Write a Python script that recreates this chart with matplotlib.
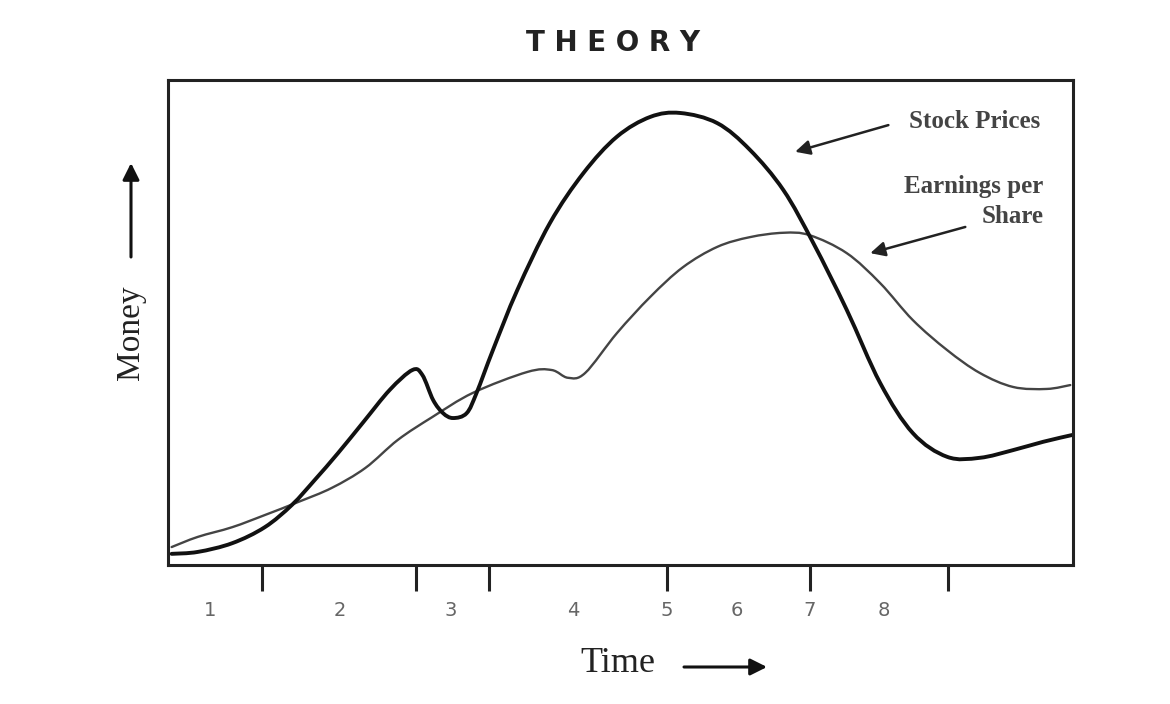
import numpy as np
import matplotlib
matplotlib.use('Agg')
import matplotlib.pyplot as plt
from matplotlib.path import Path
from matplotlib.patches import PathPatch, FancyArrowPatch

# time runs 0..100 across the box, money 0..100 up the box
stock_t = [0.4, 3.3, 7.1, 10.7, 13.7, 16.2, 18.8, 21.6, 24.5, 27.0, 28.1, 29.3, 30.4, 31.5,
           33.0, 34.1, 35.9, 38.6, 42.2, 45.9, 49.6, 53.3, 56.6, 60.7, 64.3, 68.0, 71.3,
           75.0, 78.7, 82.3, 86.1, 89.7, 93.4, 96.7, 99.9]
stock_m = [2.3, 2.7, 4.5, 7.8, 12.4, 17.5, 23.1, 29.5, 36.1, 40.2, 39.2, 34.0, 31.3, 30.3,
           31.3, 35.5, 44.3, 56.7, 70.5, 80.8, 88.3, 92.4, 93.2, 91.1, 85.6, 77.3, 66.4,
           52.6, 37.5, 27.2, 22.3, 22.1, 23.7, 25.4, 26.8]

eps_t = [0.4, 3.3, 7.1, 10.7, 14.4, 18.1, 21.8, 25.4, 29.2, 33.7, 39.7, 42.4, 44.2, 46.1,
         49.6, 53.3, 56.9, 60.7, 64.3, 68.0, 70.9, 75.0, 78.7, 82.3, 86.1, 89.7, 93.4,
         97.1, 99.7]
eps_m = [3.7, 5.8, 7.8, 10.3, 13.0, 15.9, 20.0, 25.8, 30.5, 35.5, 39.8, 40.2, 38.6, 39.6,
         47.8, 55.3, 61.4, 65.6, 67.6, 68.5, 68.0, 64.3, 58.1, 50.5, 44.3, 39.6, 36.7,
         36.3, 37.1]

# phase boundaries and phase numbers along the time axis
phase_edges = [10.4, 27.4, 35.5, 55.1, 70.9, 86.2]
phase_pos = [4.6, 19.0, 31.2, 44.8, 55.1, 62.8, 70.9, 79.1]
phase_labels = ['1', '2', '3', '4', '5', '6', '7', '8']


def smooth_path(xs, ys):
    # bezier path through the read points (catmull-rom handles), drawn by matplotlib
    p = np.column_stack([xs, ys]).astype(float)
    verts = [p[0]]
    codes = [Path.MOVETO]
    n = len(p)
    for i in range(n - 1):
        p0 = p[max(i - 1, 0)]
        p1 = p[i]
        p2 = p[i + 1]
        p3 = p[min(i + 2, n - 1)]
        verts += [p1 + (p2 - p0) / 6.0, p2 - (p3 - p1) / 6.0, p2]
        codes += [Path.CURVE4] * 3
    return Path(verts, codes)


plt.rcParams['font.family'] = ['DejaVu Sans']

fig = plt.figure(figsize=(11.7, 7.04), dpi=100)
ax = fig.add_axes([168 / 1170, 139 / 704, 905 / 1170, 485 / 704])

ax.add_patch(PathPatch(smooth_path(eps_t, eps_m), fill=False, edgecolor='#444444',
                       lw=1.7, capstyle='round', joinstyle='round'))
ax.add_patch(PathPatch(smooth_path(stock_t, stock_m), fill=False, edgecolor='#111111',
                       lw=2.8, capstyle='round', joinstyle='round'))

ax.set_xlim(0, 100)
ax.set_ylim(0, 100)
for s in ax.spines.values():
    s.set_linewidth(2.2)
    s.set_color('#222222')

ax.xaxis.remove_overlapping_locs = False
ax.set_yticks([])
ax.set_xticks(phase_edges)
ax.set_xticklabels([''] * len(phase_edges))
ax.tick_params(axis='x', which='major', direction='out', length=19, width=2.2, color='#222222')
ax.set_xticks(phase_pos, minor=True)
ax.set_xticklabels(phase_labels, minor=True, fontsize=14, color='#666666')
ax.tick_params(axis='x', which='minor', length=0, pad=26)

# annotations
arrow = dict(arrowstyle='-|>', color='#222222', lw=1.8, mutation_scale=22,
             shrinkA=0, shrinkB=0)
ax.annotate('', xy=(69.3, 85.2), xytext=(79.6, 90.7), arrowprops=arrow)
ax.annotate('', xy=(77.6, 64.3), xytext=(88.1, 69.7), arrowprops=arrow)
ax.text(96.4, 91.5, 'Stock Prices', ha='right', va='center', fontsize=18,
        family='Liberation Serif', fontweight='bold', color='#444444')
ax.text(96.7, 75.0, 'Earnings per\nShare', ha='right', va='center', fontsize=18,
        family='Liberation Serif', fontweight='bold', color='#444444',
        multialignment='right', linespacing=1.4)

# title and axis words with their arrows
fig.text(613 / 1170, 1 - 43 / 704, 'T H E O R Y', ha='center', va='center',
         fontsize=20, fontweight='bold', color='#222222')
fig.text(131 / 1170, 1 - 333 / 704, 'Money', rotation=90, ha='center', va='center',
         fontsize=24, family='Liberation Serif', color='#222222')
fig.text(618 / 1170, 1 - 664 / 704, 'Time', ha='center', va='center',
         fontsize=26, family='Liberation Serif', color='#222222')
fig.add_artist(FancyArrowPatch(
    (131 / 1170, 1 - 257 / 704), (131 / 1170, 1 - 163 / 704),
    transform=fig.transFigure, arrowstyle='-|>', mutation_scale=25,
    lw=2.2, color='#111111', shrinkA=0, shrinkB=0))
fig.add_artist(FancyArrowPatch(
    (684 / 1170, 1 - 667 / 704), (767 / 1170, 1 - 667 / 704),
    transform=fig.transFigure, arrowstyle='-|>', mutation_scale=25,
    lw=2.2, color='#111111', shrinkA=0, shrinkB=0))

fig.savefig('out.png', dpi=100, facecolor='white')
